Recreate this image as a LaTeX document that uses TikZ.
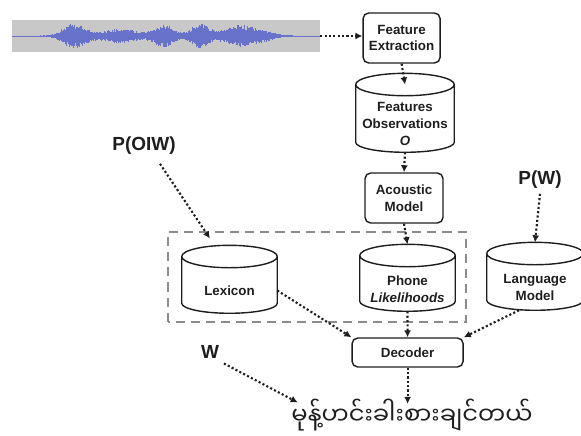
\documentclass[tikz,border=0pt]{standalone}
\usepackage{fontspec}
\setmainfont{Liberation Sans}
\newfontfamily\mmfont[Script=Myanmar]{Noto Sans Myanmar UI}
\usepackage{xcolor}
\definecolor{wavegray}{RGB}{200,200,200}
\definecolor{waveblue}{RGB}{104,114,202}
\definecolor{boxgray}{RGB}{140,140,140}
\definecolor{inkdark}{RGB}{30,30,30}
\usetikzlibrary{arrows.meta, positioning, shapes.geometric, calc}

\tikzset{
  block/.style={draw=inkdark, line width=1pt, rounded corners=4pt, fill=white,
    font=\fontsize{9.5}{12}\selectfont\bfseries, text=inkdark, align=center},
  store/.style={inner sep=0pt, font=\fontsize{9.5}{12}\selectfont\bfseries,
    text=inkdark, align=center},
  flow/.style={inkdark, line width=1.5pt, dash pattern=on 1.5pt off 1.6pt,
    -{Latex[length=5pt,width=5pt]}},
  prob/.style={font=\fontsize{13.5}{15}\selectfont\bfseries, text=inkdark},
}

% drum outline round a store node: lid above, rounded base below
\newcommand{\drum}[1]{%
  \draw[inkdark, line width=1pt] let \p1=(#1.north west), \p2=(#1.south east), \n1={(\x2-\x1)/2} in
    (\x1,\y1+0.28cm) arc[start angle=180, end angle=-180, x radius={\n1*1pt}, y radius=0.28cm]
    (\x1,\y1+0.28cm) -- (\x1,\y2+0.25cm)
    arc[start angle=180, end angle=360, x radius={\n1*1pt}, y radius=0.25cm]
    -- (\x2,\y1+0.28cm);
  \coordinate (#1 lid) at ($(#1.north)+(0,0.28)$);
  \coordinate (#1 rim) at ($(#1.north)+(0,0.56)$);
}

\begin{document}
\begin{tikzpicture}
  \useasboundingbox (0,0) rectangle (14.525,10.875);

  % --- speech signal ---
  \node[fill=wavegray, minimum width=7.7cm, minimum height=0.8cm, inner sep=0pt] (wave) at (4.15,9.975) {};
  \draw[waveblue, line width=0.4pt] (0.3,9.975) -- (8.0,9.975);
  \pgfmathsetseed{7}
  \foreach \x in {0.32,0.34,...,7.98} {
    \pgfmathsetmacro{\amp}{0.012 + 0.31*exp(-((\x-1.85)/0.38)^2) + 0.17*exp(-((\x-3.0)/0.6)^2)
      + 0.28*exp(-((\x-4.12)/0.35)^2) + 0.3*exp(-((\x-5.0)/0.3)^2)
      + 0.26*exp(-((\x-5.95)/0.5)^2) + 0.1*exp(-((\x-6.6)/0.4)^2)}
    \pgfmathsetmacro{\up}{\amp*(0.55+0.45*rnd)}
    \pgfmathsetmacro{\dn}{\amp*(0.55+0.45*rnd)}
    \draw[waveblue, line width=0.5pt] (\x,9.975+\up) -- (\x,9.975-\dn);
  }

  % --- front end ---
  \node[block, minimum width=1.925cm, minimum height=1.25cm] (fe) at (10.04,9.925) {Feature\\Extraction};
  \node[store, minimum width=2.45cm, minimum height=1.4cm] (obs) at (10.125,7.775)
    {Features\\Observations\\\textit{O}};
  \drum{obs}
  \node[block, minimum width=1.95cm, minimum height=1.25cm] (am) at (10.10,5.925) {Acoustic\\Model};

  % --- knowledge sources ---
  \draw[boxgray, line width=1.4pt, dash pattern=on 6.5pt off 4.3pt] (4.2,2.825) rectangle (11.65,5.075);
  \node[store, minimum width=2.375cm, minimum height=1.1cm] (phone) at (10.1875,3.65)
    {Phone\\\textit{Likelihoods}};
  \drum{phone}
  \node[store, minimum width=2.375cm, minimum height=1.125cm] (lex) at (5.7375,3.6125) {Lexicon};
  \drum{lex}
  \node[store, minimum width=2.4cm, minimum height=1.125cm] (lang) at (13.375,3.6875)
    {Language\\Model};
  \drum{lang}

  % --- search ---
  \node[block, minimum width=2.775cm, minimum height=0.725cm] (dec) at (10.19,2.0625) {Decoder};
  \node[font=\mmfont\fontsize{17.2}{21}\selectfont, text=inkdark] (mm) at (10.30,0.5) {မုန့်ဟင်းခါးစားချင်တယ်};

  % --- probability labels ---
  \node[prob] (poiw) at (3.6,7.225) {P(OIW)};
  \node[prob] (pw) at (13.5,6.375) {P(W)};
  \node[prob] (w) at (5.25,2.075) {W};

  % connectors
  \draw[flow] (wave.east) -- (wave.east -| fe.west);
  \draw[flow] (fe.south) -- (obs lid);
  \draw[flow] (obs.south) -- (am.north);
  \draw[flow] (am.south) -- (phone rim);
  \draw[flow] (lex.east) -- (dec.north west);
  \draw[flow] (phone.south) -- (dec.north);
  \draw[flow] (lang.235) -- (dec.north east);
  \draw[flow] ($(poiw.south)+(0.4,-0.1)$) -- ($(lex rim)+(-0.49,0.17)$);
  \draw[flow] (pw.south) -- (lang rim);
  \draw[flow] (w.south east) -- ([xshift=8pt,yshift=-6pt]mm.north west);
  \draw[flow] (dec.south) -- ([yshift=-7pt]dec.south |- mm.north);
\end{tikzpicture}
\end{document}
